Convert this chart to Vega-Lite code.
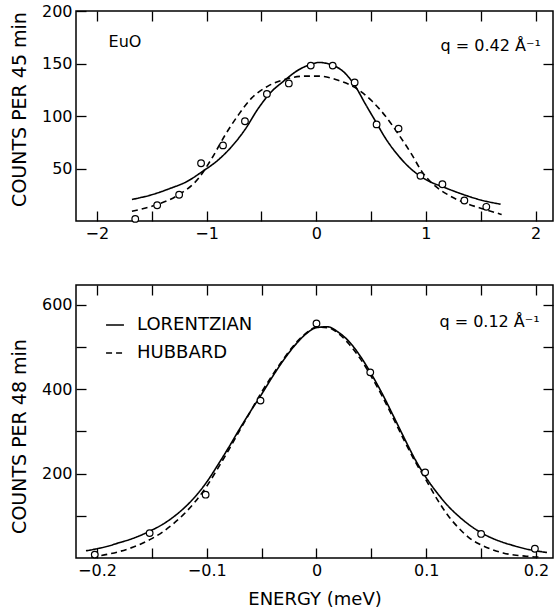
{
  "$schema": "https://vega.github.io/schema/vega-lite/v6.json",
  "background": "white",
  "padding": {"left": 9, "top": 2, "right": 0, "bottom": 0},
  "config": {
    "font": "DejaVu Sans",
    "view": {"stroke": "black", "strokeWidth": 1.5},
    "axis": {
      "domain": false, "grid": false, "ticks": true,
      "tickColor": "black", "tickWidth": 1.3, "tickSize": -10,
      "labelColor": "black", "labelFont": "DejaVu Sans", "labelFontSize": 16,
      "titleColor": "black", "titleFont": "DejaVu Sans", "titleFontWeight": "normal"
    },
    "legend": {"labelFont": "DejaVu Sans", "labelColor": "black"}
  },
  "datasets": {
    "top_curves": [
      {"energy": -1.68, "counts": 20.5, "model": "LORENTZIAN"},
      {"energy": -1.5, "counts": 25, "model": "LORENTZIAN"},
      {"energy": -1.32, "counts": 31.5, "model": "LORENTZIAN"},
      {"energy": -1.19, "counts": 37, "model": "LORENTZIAN"},
      {"energy": -1.04, "counts": 47, "model": "LORENTZIAN"},
      {"energy": -0.89, "counts": 58.5, "model": "LORENTZIAN"},
      {"energy": -0.77, "counts": 71, "model": "LORENTZIAN"},
      {"energy": -0.65, "counts": 87, "model": "LORENTZIAN"},
      {"energy": -0.53, "counts": 107, "model": "LORENTZIAN"},
      {"energy": -0.41, "counts": 123, "model": "LORENTZIAN"},
      {"energy": -0.3, "counts": 133, "model": "LORENTZIAN"},
      {"energy": -0.16, "counts": 144, "model": "LORENTZIAN"},
      {"energy": -0.04, "counts": 149.5, "model": "LORENTZIAN"},
      {"energy": 0.02, "counts": 151, "model": "LORENTZIAN"},
      {"energy": 0.17, "counts": 147.5, "model": "LORENTZIAN"},
      {"energy": 0.26, "counts": 141, "model": "LORENTZIAN"},
      {"energy": 0.355, "counts": 128.5, "model": "LORENTZIAN"},
      {"energy": 0.45, "counts": 111, "model": "LORENTZIAN"},
      {"energy": 0.54, "counts": 95, "model": "LORENTZIAN"},
      {"energy": 0.63, "counts": 79, "model": "LORENTZIAN"},
      {"energy": 0.75, "counts": 62, "model": "LORENTZIAN"},
      {"energy": 0.87, "counts": 49, "model": "LORENTZIAN"},
      {"energy": 0.99, "counts": 40, "model": "LORENTZIAN"},
      {"energy": 1.18, "counts": 31.5, "model": "LORENTZIAN"},
      {"energy": 1.36, "counts": 24.5, "model": "LORENTZIAN"},
      {"energy": 1.5, "counts": 20, "model": "LORENTZIAN"},
      {"energy": 1.68, "counts": 16, "model": "LORENTZIAN"},
      {"energy": -1.68, "counts": 9.3, "model": "HUBBARD"},
      {"energy": -1.47, "counts": 15, "model": "HUBBARD"},
      {"energy": -1.26, "counts": 24.6, "model": "HUBBARD"},
      {"energy": -1.07, "counts": 41, "model": "HUBBARD"},
      {"energy": -0.95, "counts": 60, "model": "HUBBARD"},
      {"energy": -0.83, "counts": 82, "model": "HUBBARD"},
      {"energy": -0.71, "counts": 101, "model": "HUBBARD"},
      {"energy": -0.59, "counts": 117, "model": "HUBBARD"},
      {"energy": -0.44, "counts": 128.5, "model": "HUBBARD"},
      {"energy": -0.28, "counts": 135, "model": "HUBBARD"},
      {"energy": -0.1, "counts": 138, "model": "HUBBARD"},
      {"energy": 0.02, "counts": 138, "model": "HUBBARD"},
      {"energy": 0.2, "counts": 134, "model": "HUBBARD"},
      {"energy": 0.355, "counts": 127, "model": "HUBBARD"},
      {"energy": 0.51, "counts": 114, "model": "HUBBARD"},
      {"energy": 0.63, "counts": 100, "model": "HUBBARD"},
      {"energy": 0.75, "counts": 82.5, "model": "HUBBARD"},
      {"energy": 0.87, "counts": 63.5, "model": "HUBBARD"},
      {"energy": 0.96, "counts": 47.5, "model": "HUBBARD"},
      {"energy": 1.05, "counts": 36.5, "model": "HUBBARD"},
      {"energy": 1.2, "counts": 25, "model": "HUBBARD"},
      {"energy": 1.36, "counts": 17, "model": "HUBBARD"},
      {"energy": 1.54, "counts": 11, "model": "HUBBARD"},
      {"energy": 1.69, "counts": 6.2, "model": "HUBBARD"}
    ],
    "top_points": [
      {"energy": -1.65, "counts": 2},
      {"energy": -1.45, "counts": 15},
      {"energy": -1.25, "counts": 25},
      {"energy": -1.05, "counts": 55},
      {"energy": -0.85, "counts": 72},
      {"energy": -0.65, "counts": 95},
      {"energy": -0.45, "counts": 121},
      {"energy": -0.25, "counts": 131},
      {"energy": -0.05, "counts": 148},
      {"energy": 0.15, "counts": 148},
      {"energy": 0.35, "counts": 132},
      {"energy": 0.55, "counts": 92},
      {"energy": 0.75, "counts": 88},
      {"energy": 0.95, "counts": 43},
      {"energy": 1.15, "counts": 35},
      {"energy": 1.35, "counts": 19.5},
      {"energy": 1.55, "counts": 13.5}
    ],
    "top_notes": [
      {"energy": -1.893, "counts": 170.5, "note": "EuO"},
      {"energy": 1.133, "counts": 167, "note": "q = 0.42 Å⁻¹"}
    ],
    "bottom_curves": [
      {"energy": -0.21, "counts": 17, "model": "LORENTZIAN"},
      {"energy": -0.2, "counts": 22, "model": "LORENTZIAN"},
      {"energy": -0.19, "counts": 28, "model": "LORENTZIAN"},
      {"energy": -0.18, "counts": 36, "model": "LORENTZIAN"},
      {"energy": -0.17, "counts": 44, "model": "LORENTZIAN"},
      {"energy": -0.16, "counts": 54, "model": "LORENTZIAN"},
      {"energy": -0.15, "counts": 66, "model": "LORENTZIAN"},
      {"energy": -0.14, "counts": 80, "model": "LORENTZIAN"},
      {"energy": -0.13, "counts": 98, "model": "LORENTZIAN"},
      {"energy": -0.12, "counts": 120, "model": "LORENTZIAN"},
      {"energy": -0.11, "counts": 147, "model": "LORENTZIAN"},
      {"energy": -0.1, "counts": 180, "model": "LORENTZIAN"},
      {"energy": -0.09, "counts": 220, "model": "LORENTZIAN"},
      {"energy": -0.08, "counts": 262, "model": "LORENTZIAN"},
      {"energy": -0.07, "counts": 306, "model": "LORENTZIAN"},
      {"energy": -0.06, "counts": 348, "model": "LORENTZIAN"},
      {"energy": -0.05, "counts": 388, "model": "LORENTZIAN"},
      {"energy": -0.04, "counts": 430, "model": "LORENTZIAN"},
      {"energy": -0.03, "counts": 469, "model": "LORENTZIAN"},
      {"energy": -0.02, "counts": 503, "model": "LORENTZIAN"},
      {"energy": -0.01, "counts": 530, "model": "LORENTZIAN"},
      {"energy": 0, "counts": 546, "model": "LORENTZIAN"},
      {"energy": 0.01, "counts": 548, "model": "LORENTZIAN"},
      {"energy": 0.02, "counts": 535, "model": "LORENTZIAN"},
      {"energy": 0.03, "counts": 512, "model": "LORENTZIAN"},
      {"energy": 0.04, "counts": 478, "model": "LORENTZIAN"},
      {"energy": 0.05, "counts": 436, "model": "LORENTZIAN"},
      {"energy": 0.06, "counts": 389, "model": "LORENTZIAN"},
      {"energy": 0.07, "counts": 337, "model": "LORENTZIAN"},
      {"energy": 0.08, "counts": 284, "model": "LORENTZIAN"},
      {"energy": 0.09, "counts": 233, "model": "LORENTZIAN"},
      {"energy": 0.1, "counts": 190, "model": "LORENTZIAN"},
      {"energy": 0.11, "counts": 154, "model": "LORENTZIAN"},
      {"energy": 0.12, "counts": 123, "model": "LORENTZIAN"},
      {"energy": 0.13, "counts": 98, "model": "LORENTZIAN"},
      {"energy": 0.14, "counts": 77, "model": "LORENTZIAN"},
      {"energy": 0.15, "counts": 60, "model": "LORENTZIAN"},
      {"energy": 0.16, "counts": 47, "model": "LORENTZIAN"},
      {"energy": 0.17, "counts": 37, "model": "LORENTZIAN"},
      {"energy": 0.18, "counts": 29, "model": "LORENTZIAN"},
      {"energy": 0.19, "counts": 22, "model": "LORENTZIAN"},
      {"energy": 0.2, "counts": 17, "model": "LORENTZIAN"},
      {"energy": 0.21, "counts": 13, "model": "LORENTZIAN"},
      {"energy": -0.205, "counts": 2, "model": "HUBBARD"},
      {"energy": -0.19, "counts": 9, "model": "HUBBARD"},
      {"energy": -0.18, "counts": 15, "model": "HUBBARD"},
      {"energy": -0.17, "counts": 23, "model": "HUBBARD"},
      {"energy": -0.16, "counts": 33, "model": "HUBBARD"},
      {"energy": -0.15, "counts": 46, "model": "HUBBARD"},
      {"energy": -0.14, "counts": 62, "model": "HUBBARD"},
      {"energy": -0.13, "counts": 82, "model": "HUBBARD"},
      {"energy": -0.12, "counts": 106, "model": "HUBBARD"},
      {"energy": -0.11, "counts": 135, "model": "HUBBARD"},
      {"energy": -0.1, "counts": 170, "model": "HUBBARD"},
      {"energy": -0.09, "counts": 212, "model": "HUBBARD"},
      {"energy": -0.08, "counts": 256, "model": "HUBBARD"},
      {"energy": -0.07, "counts": 302, "model": "HUBBARD"},
      {"energy": -0.06, "counts": 348, "model": "HUBBARD"},
      {"energy": -0.05, "counts": 393, "model": "HUBBARD"},
      {"energy": -0.04, "counts": 434, "model": "HUBBARD"},
      {"energy": -0.03, "counts": 472, "model": "HUBBARD"},
      {"energy": -0.02, "counts": 506, "model": "HUBBARD"},
      {"energy": -0.01, "counts": 532, "model": "HUBBARD"},
      {"energy": 0, "counts": 547, "model": "HUBBARD"},
      {"energy": 0.01, "counts": 546, "model": "HUBBARD"},
      {"energy": 0.02, "counts": 532, "model": "HUBBARD"},
      {"energy": 0.03, "counts": 506, "model": "HUBBARD"},
      {"energy": 0.04, "counts": 472, "model": "HUBBARD"},
      {"energy": 0.05, "counts": 430, "model": "HUBBARD"},
      {"energy": 0.06, "counts": 383, "model": "HUBBARD"},
      {"energy": 0.07, "counts": 331, "model": "HUBBARD"},
      {"energy": 0.08, "counts": 278, "model": "HUBBARD"},
      {"energy": 0.09, "counts": 228, "model": "HUBBARD"},
      {"energy": 0.1, "counts": 184, "model": "HUBBARD"},
      {"energy": 0.11, "counts": 139, "model": "HUBBARD"},
      {"energy": 0.12, "counts": 100, "model": "HUBBARD"},
      {"energy": 0.13, "counts": 70, "model": "HUBBARD"},
      {"energy": 0.14, "counts": 46, "model": "HUBBARD"},
      {"energy": 0.15, "counts": 31, "model": "HUBBARD"},
      {"energy": 0.16, "counts": 20, "model": "HUBBARD"},
      {"energy": 0.17, "counts": 12, "model": "HUBBARD"},
      {"energy": 0.18, "counts": 7, "model": "HUBBARD"},
      {"energy": 0.19, "counts": 4.5, "model": "HUBBARD"},
      {"energy": 0.2, "counts": 2.5, "model": "HUBBARD"},
      {"energy": 0.205, "counts": 2, "model": "HUBBARD"}
    ],
    "bottom_points": [
      {"energy": -0.202, "counts": 8},
      {"energy": -0.152, "counts": 59},
      {"energy": -0.101, "counts": 150},
      {"energy": -0.051, "counts": 373},
      {"energy": 0, "counts": 556},
      {"energy": 0.049, "counts": 440},
      {"energy": 0.099, "counts": 203},
      {"energy": 0.15, "counts": 57},
      {"energy": 0.199, "counts": 22}
    ],
    "bottom_notes": [
      {"energy": 0.112, "counts": 560, "note": "q = 0.12 Å⁻¹"}
    ]
  },
  "spacing": 64,
  "bounds": "flush",
  "resolve": {"scale": {"strokeDash": "independent"}, "legend": {"strokeDash": "independent"}},
  "vconcat": [
    {
      "width": 477,
      "height": 210,
      "resolve": {"axis": {"x": "independent", "y": "independent"}},
      "layer": [
        {
          "data": {"name": "top_curves"},
          "mark": {"type": "line", "color": "black", "strokeWidth": 1.6, "interpolate": "monotone"},
          "encoding": {
            "x": {"field": "energy", "type": "quantitative",
              "scale": {"domain": [-2.19, 2.158], "nice": false, "zero": false},
              "axis": {"orient": "bottom", "values": [-2, -1.5, -1, -0.5, 0, 0.5, 1, 1.5, 2],
                "labelExpr": "datum.value % 1 === 0 ? format(datum.value, 'd') : ''",
                "title": null, "labelPadding": 14}},
            "y": {"field": "counts", "type": "quantitative",
              "scale": {"domain": [0, 200], "nice": false},
              "axis": {"orient": "left", "values": [50, 100, 150, 200], "labelPadding": 14,
                "title": "COUNTS PER 45 min", "titleFontSize": 19, "titleX": -47, "titleY": 98}},
            "strokeDash": {"field": "model", "type": "nominal",
              "scale": {"domain": ["LORENTZIAN", "HUBBARD"], "range": [[1, 0], [6, 4]]},
              "legend": null}
          }
        },
        {
          "data": {"name": "top_points"},
          "mark": {"type": "circle", "fill": "white", "stroke": "black", "strokeWidth": 1.2, "size": 44, "opacity": 1},
          "encoding": {
            "x": {"field": "energy", "type": "quantitative",
              "axis": {"orient": "top", "values": [-2, -1.5, -1, -0.5, 0, 0.5, 1, 1.5, 2], "labels": false, "title": null}},
            "y": {"field": "counts", "type": "quantitative",
              "axis": {"orient": "right", "values": [50, 100, 150], "labels": false, "title": null}}
          }
        },
        {
          "data": {"name": "top_notes"},
          "mark": {"type": "text", "align": "left", "baseline": "middle", "fontSize": 16, "color": "black"},
          "encoding": {
            "x": {"field": "energy", "type": "quantitative", "axis": null},
            "y": {"field": "counts", "type": "quantitative", "axis": null},
            "text": {"field": "note"}
          }
        }
      ]
    },
    {
      "width": 477,
      "height": 273,
      "resolve": {"axis": {"x": "independent", "y": "independent"}},
      "layer": [
        {
          "data": {"name": "bottom_curves"},
          "mark": {"type": "line", "color": "black", "strokeWidth": 1.6, "interpolate": "monotone"},
          "encoding": {
            "x": {"field": "energy", "type": "quantitative",
              "scale": {"domain": [-0.2191, 0.2155], "nice": false, "zero": false},
              "axis": {"orient": "bottom", "values": [-0.2, -0.15, -0.1, -0.05, 0, 0.05, 0.1, 0.15, 0.2],
                "labelExpr": "abs(datum.value * 10 - round(datum.value * 10)) < 0.000001 ? (datum.value === 0 ? '0' : format(datum.value, '.1f')) : ''",
                "labelPadding": 14,
                "title": "ENERGY (meV)", "titleFontSize": 18, "titleY": 32}},
            "y": {"field": "counts", "type": "quantitative",
              "scale": {"domain": [0, 647], "nice": false},
              "axis": {"orient": "left", "values": [100, 200, 300, 400, 500, 600], "labelPadding": 14,
                "labelExpr": "datum.value % 200 === 0 ? datum.label : ''",
                "title": "COUNTS PER 48 min", "titleFontSize": 19, "titleX": -47, "titleY": 151}},
            "strokeDash": {"field": "model", "type": "nominal",
              "scale": {"domain": ["LORENTZIAN", "HUBBARD"], "range": [[1, 0], [6, 4]]},
              "legend": {"orient": "none", "legendX": 29, "legendY": 30, "title": null,
                "symbolType": "stroke", "symbolStrokeColor": "black", "symbolStrokeWidth": 1.6,
                "symbolSize": 320, "labelFontSize": 18, "labelOffset": 12, "rowPadding": 9, "padding": 0}}
          }
        },
        {
          "data": {"name": "bottom_points"},
          "mark": {"type": "circle", "fill": "white", "stroke": "black", "strokeWidth": 1.2, "size": 44, "opacity": 1},
          "encoding": {
            "x": {"field": "energy", "type": "quantitative",
              "axis": {"orient": "top", "values": [-0.2, -0.15, -0.1, -0.05, 0, 0.05, 0.1, 0.15, 0.2], "labels": false, "title": null}},
            "y": {"field": "counts", "type": "quantitative",
              "axis": {"orient": "right", "values": [100, 200, 300, 400, 500, 600], "labels": false, "title": null}}
          }
        },
        {
          "data": {"name": "bottom_notes"},
          "mark": {"type": "text", "align": "left", "baseline": "middle", "fontSize": 16, "color": "black"},
          "encoding": {
            "x": {"field": "energy", "type": "quantitative", "axis": null},
            "y": {"field": "counts", "type": "quantitative", "axis": null},
            "text": {"field": "note"}
          }
        }
      ]
    }
  ]
}
